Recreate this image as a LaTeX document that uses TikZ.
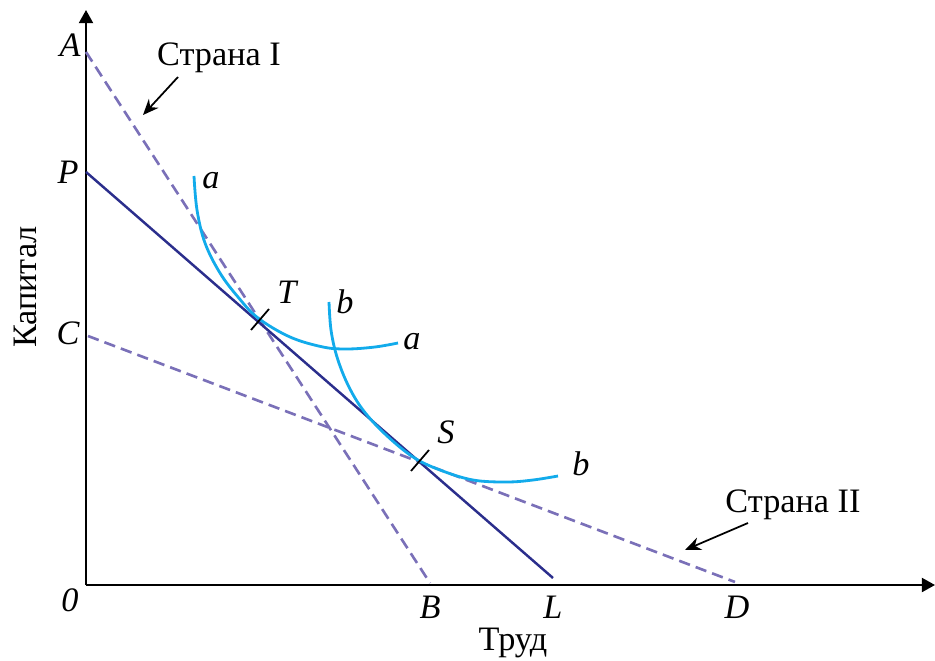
\documentclass[tikz,border=0pt]{standalone}
\usepackage{fontspec}
\setmainfont{Liberation Serif}
\usepackage{xcolor}
\usetikzlibrary{arrows.meta,calc}

\definecolor{countryline}{HTML}{7A70B8}
\definecolor{budgetline}{HTML}{2B2E8C}
\definecolor{isoquant}{HTML}{12ABEB}

\begin{document}
\begin{tikzpicture}[x=0.02cm, y=-0.02cm, font=\fontsize{19.5}{22}\selectfont,
	axis/.style={line width=1.2pt, -{Triangle[length=7.5pt,width=8pt]}},
	country/.style={countryline, line width=1.5pt, dash pattern=on 6.5pt off 3.5pt},
	budget/.style={budgetline, line width=1.4pt},
	quant/.style={isoquant, line width=1.6pt},
	pointer/.style={line width=1pt, -{Stealth[length=9pt,width=7.5pt]}},
	tick/.style={line width=1pt},
	lab/.style={inner sep=0pt, font=\fontsize{19.5}{22}\selectfont\itshape}]
	\useasboundingbox (0,0) rectangle (935,661);

	% axes
	\coordinate (O) at (86,585);
	\coordinate (Ytop) at (86,10);
	\coordinate (Xend) at (935,585);
	\draw[axis] (O) -- (Ytop);
	\draw[axis] (O) -- (Xend);

	% end points of the lines
	\coordinate (A) at (86,52);
	\coordinate (B) at (430,583);
	\coordinate (P) at (86,172);
	\coordinate (L) at (553,578);
	\coordinate (C) at (88,336);
	\coordinate (D) at (735,582);

	\draw[country] (A) -- (B);
	\draw[country] (C) -- (D);
	\draw[budget] (P) -- (L);

	% isoquants
	\draw[quant] plot[smooth, tension=0.6] coordinates {(194,176) (197,210) (205,243)
		(220,273) (238,297) (258,318) (290,337) (323,347) (347,349) (375,347) (398,343)};
	\draw[quant] plot[smooth, tension=0.6] coordinates {(329,302) (331,330) (337,357)
		(348,385) (363,410) (385,434) (413,457) (440,470) (473,480) (507,482) (533,480) (558,476)};

	% tangency points
	\coordinate (T) at (260,320);
	\coordinate (S) at (420,461);
	\draw[tick] ($(T)+(-9,10)$) -- ($(T)+(9,-11)$);
	\draw[tick] ($(S)+(-9,10)$) -- ($(S)+(9,-11)$);

	% labels
	\node[lab] (lA) at (70,45) {A};
	\node[lab] (lP) at (68,172) {P};
	\node[lab] (lC) at (68,333) {C};
	\node[lab] (l0) at (70,600) {0};
	\node[lab] (lB) at (430,607) {B};
	\node[lab] (lL) at (553,607) {L};
	\node[lab] (lD) at (737,607) {D};
	\node[lab] (lT) at (287,292) {T};
	\node[lab] (lS) at (446,432) {S};
	\node[lab] (la1) at (211,181) {a};
	\node[lab] (la2) at (412,342) {a};
	\node[lab] (lb1) at (345,302) {b};
	\node[lab] (lb2) at (581,464) {b};

	\node (xlab) at (513,643) {Труд};
	\node[rotate=90] (ylab) at (25,287) {Капитал};

	\node (str1) at (219,58) {Страна I};
	\node (str2) at (793,505) {Страна II};
	\coordinate (p1s) at (178,77);
	\coordinate (p1e) at (143,115);
	\coordinate (p2s) at (748,523);
	\coordinate (p2e) at (685,550);
	\draw[pointer] (p1s) -- (p1e);
	\draw[pointer] (p2s) -- (p2e);
\end{tikzpicture}
\end{document}
